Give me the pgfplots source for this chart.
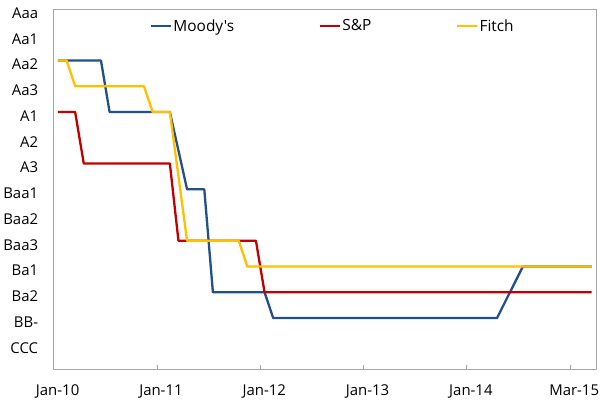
\documentclass[border=0pt]{standalone}
\usepackage{fontspec}
\setmainfont{Open Sans}[Ligatures=TeXOff]
\usepackage{pgfplots}
\pgfplotsset{compat=1.18}
\usetikzlibrary{calc}
\definecolor{moody}{HTML}{22508B}
\definecolor{sp}{HTML}{C00000}
\definecolor{fitch}{HTML}{FFC000}
\definecolor{axisgray}{HTML}{A6A6A6}

\begin{document}
\begin{tikzpicture}
\begin{axis}[
  scale only axis, width=543bp, height=361bp,
  xmin=-0.5, xmax=62.5, ymin=-1, ymax=13,
  xtick={-0.5,11.5,23.5,35.5,47.5,59.5},
  xticklabels={Jan-10,Jan-11,Jan-12,Jan-13,Jan-14,Mar-15},
  ytick={0,...,13},
  yticklabels={CCC,BB-,Ba2,Ba1,Baa3,Baa2,Baa1,A3,A2,A1,Aa3,Aa2,Aa1,Aaa},
  axis line style={axisgray, line width=0.8bp},
  ytick style={draw=none},
  xtick style={axisgray, line width=0.8bp},
  tick align=inside, major tick length=5bp, xtick pos=bottom, ytick pos=left,
  tick label style={font=\fontsize{15}{17}\selectfont, black},
  yticklabel style={yshift=-4bp, xshift=-12bp},
  xticklabel style={yshift=-12bp, xshift=4bp},
  legend style={at={(0.514,0.953)}, anchor=center, draw=none, fill=none,
    font=\fontsize{15.5}{17}\selectfont, text=black,
    nodes={inner xsep=1bp, inner ysep=2bp},
    /tikz/every even column/.append style={column sep=84bp}},
  legend columns=3,
  legend image code/.code={\draw[#1] (0bp,0bp) -- (20bp,0bp);},
  every axis plot/.append style={line width=2.3bp, line join=round, no markers},
]
\addplot[moody] coordinates {(0,11) (5,11) (6,9) (13,9) (15,6) (17,6) (18,2) (24,2) (25,1) (51,1) (54,3) (62,3)};
\addlegendentry{Moody's}
\addplot[sp] coordinates {(0,9) (2,9) (3,7) (13,7) (14,4) (23,4) (24,2) (62,2)};
\addlegendentry{S\&P}
\addplot[fitch] coordinates {(0,11) (1,11) (2,10) (10,10) (11,9) (13,9) (15,4) (21,4) (22,3) (62,3)};
\addlegendentry{Fitch}
\end{axis}
\path ($(current axis.south west)+(-53bp,-34bp)$) rectangle ($(current axis.north east)+(13bp,9bp)$);
\end{tikzpicture}
\end{document}
